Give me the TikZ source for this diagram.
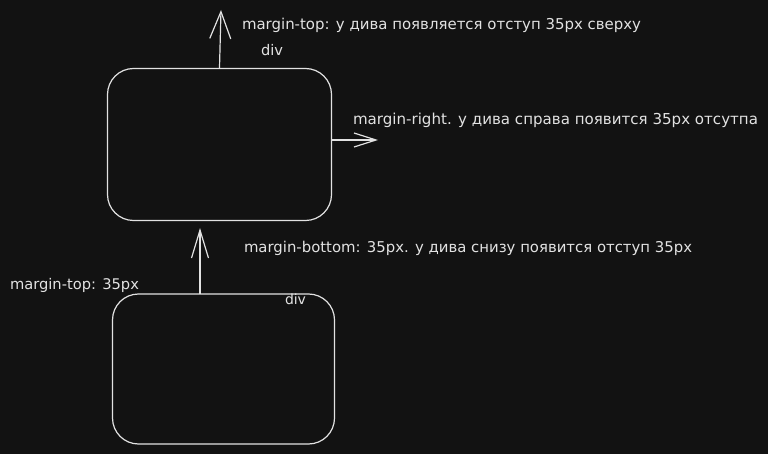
\documentclass[tikz,border=0pt]{standalone}
\usepackage{fontspec}
\setmainfont{DejaVu Sans}
\usetikzlibrary{arrows.meta}
\definecolor{bg}{HTML}{121212}
\definecolor{ink}{HTML}{E2E2E2}
\begin{document}
\begin{tikzpicture}[x=1pt,y=-1pt,
  divbox/.style={draw=ink,line width=1.2pt,rounded corners=26pt,inner sep=0pt},
  conn/.style={draw=ink,line width=1.2pt},
  lbl/.style={text=ink,anchor=base west,inner sep=0pt,outer sep=0pt}]
\fill[bg] (0,0) rectangle (768,454);
\useasboundingbox (0,0) rectangle (768,454);
\node[divbox,minimum width=224pt,minimum height=152pt] (boxA) at (219.5,144.5) {};
\node[divbox,minimum width=222pt,minimum height=150pt] (boxB) at (223.5,369) {};
\coordinate (tA) at (221,10);
\coordinate (sR) at (332,140);
\coordinate (tR) at (378,140);
\coordinate (sM) at (200,294);
\coordinate (tM) at (200,228);
\draw[conn,-{Straight Barb[length=27pt,width=21pt]}] (boxA.north) -- (tA);
\draw[conn,-{Straight Barb[length=22pt,width=14pt]}] (sR) -- (tR);
\draw[conn,-{Straight Barb[length=28pt,width=17pt]}] (sM) -- (tM);
\node[lbl] (t1) at (242,30) {\resizebox{399pt}{!}{margin-top: у дива появляется отступ 35px сверху}};
\node[lbl] (d1) at (261,56) {\resizebox{22pt}{!}{div}};
\node[lbl] (t2) at (353,125) {\resizebox{405pt}{!}{margin-right. у дива справа появится 35px отсутпа}};
\node[lbl] (t3) at (244,253) {\resizebox{448pt}{!}{margin-bottom: 35px. у дива снизу появится отступ 35px}};
\node[lbl] (t4) at (10,290) {\resizebox{129pt}{!}{margin-top: 35px}};
\node[lbl] (d2) at (285,305) {\resizebox{21pt}{!}{div}};
\end{tikzpicture}
\end{document}
